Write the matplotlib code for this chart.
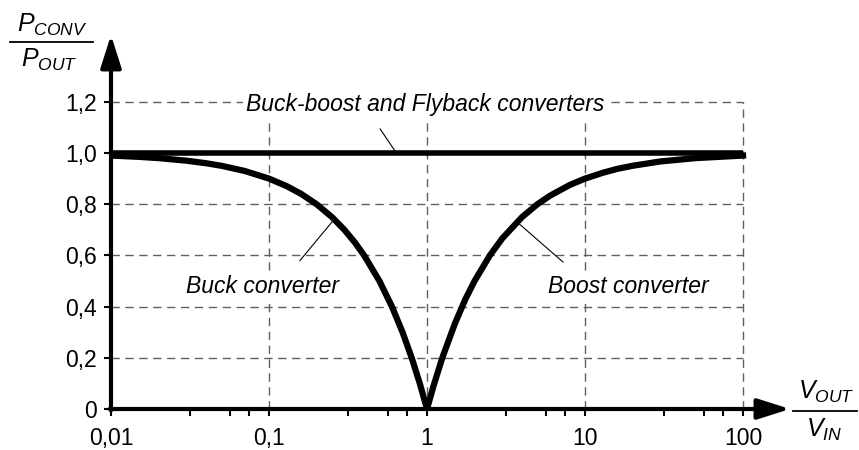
import numpy as np
import matplotlib.pyplot as plt
from matplotlib.ticker import FixedLocator, FixedFormatter, NullFormatter

plt.rcParams['font.family'] = ['Liberation Sans', 'DejaVu Sans']
plt.rcParams['mathtext.fontset'] = 'custom'
plt.rcParams['mathtext.it'] = 'Liberation Sans:italic'
plt.rcParams['mathtext.rm'] = 'Liberation Sans'

# valores
buck_x = [0.01, 0.015, 0.02, 0.03, 0.04, 0.05, 0.07, 0.1, 0.13, 0.16, 0.2, 0.25, 0.3,
          0.35, 0.4, 0.5, 0.6, 0.7, 0.8, 0.9, 1.0]
buck_y = [0.99, 0.985, 0.98, 0.97, 0.96, 0.95, 0.93, 0.9, 0.87, 0.84, 0.8, 0.75, 0.7,
          0.65, 0.6, 0.5, 0.4, 0.3, 0.2, 0.1, 0.0]
boost_x = [1.0, 1.1, 1.25, 1.5, 1.75, 2, 2.5, 3, 4, 5, 6, 8, 10, 13, 16, 20, 30, 50, 100]
boost_y = [0.0, 0.09, 0.2, 0.333, 0.429, 0.5, 0.6, 0.667, 0.75, 0.8, 0.833, 0.875, 0.9,
           0.923, 0.938, 0.95, 0.967, 0.98, 0.99]
bb_x = [0.01, 100]
bb_y = [1.0, 1.0]

xticks = [0.01, 0.1, 1, 10, 100]
xtick_labels = ['0,01', '0,1', '1', '10', '100']
yticks = [0, 0.2, 0.4, 0.6, 0.8, 1.0, 1.2]
ytick_labels = ['0', '0,2', '0,4', '0,6', '0,8', '1,0', '1,2']

W, H = 859, 450
fig = plt.figure(figsize=(W / 100, H / 100), dpi=100)

# eixo: 0.01 -> px 111, 100 -> px 743; y 0 -> px 409, 1.0 -> px 153
x0, x_tip = 111, 790
y0, y_tip = 409, 35
dec = (743 - x0) / 4
unit = (y0 - 153) / 1.0
xmax = 10 ** ((x_tip - x0) / dec - 2)
ymax = (y0 - y_tip) / unit

ax = fig.add_axes([x0 / W, (H - y0) / H, (x_tip - x0) / W, (y0 - y_tip) / H])
ax.set_xscale('log')
ax.set_xlim(0.01, xmax)
ax.set_ylim(0, ymax)
for s in ax.spines.values():
    s.set_visible(False)

# grade tracejada
ax.hlines(yticks[1:], 0.01, 100, colors='#606060', linestyles=(0, (6, 4)), lw=1.0, zorder=1)
ax.vlines(xticks[1:], 0, 1.2, colors='#606060', linestyles=(0, (6, 4)), lw=1.0, zorder=1)

# curvas
ax.plot(bb_x, bb_y, color='black', lw=4, solid_capstyle='butt', zorder=3)
ax.plot(buck_x, buck_y, color='black', lw=4.5, solid_joinstyle='round', zorder=3)
ax.plot(boost_x, boost_y, color='black', lw=4.5, solid_joinstyle='round', zorder=3)

# eixos com setas
arrow = dict(arrowstyle='-|>,head_length=1.1,head_width=0.35', lw=3, color='black',
             mutation_scale=18, shrinkA=0, shrinkB=0)
ax.annotate('', xy=(xmax, 0), xytext=(0.0098, 0), arrowprops=arrow, annotation_clip=False, zorder=5)
ax.annotate('', xy=(0.01, ymax), xytext=(0.01, -0.006), arrowprops=arrow, annotation_clip=False, zorder=5)

ax.xaxis.set_major_locator(FixedLocator(xticks))
ax.xaxis.set_major_formatter(FixedFormatter(xtick_labels))
minors = [10 ** (k + f) for k in range(-2, 2) for f in (0.5, 0.75, 0.875)]
ax.xaxis.set_minor_locator(FixedLocator(minors))
ax.xaxis.set_minor_formatter(NullFormatter())
ax.yaxis.set_major_locator(FixedLocator(yticks))
ax.yaxis.set_major_formatter(FixedFormatter(ytick_labels))
ax.tick_params(axis='x', which='both', direction='out', length=5, width=1.5, pad=8, labelsize=16.5)
ax.tick_params(axis='y', direction='out', length=5, width=1.5, pad=5, labelsize=16.5)

# textos e linhas de chamada
box = dict(facecolor='white', edgecolor='none', pad=2)
ax.text(0.97, 1.19, 'Buck-boost and Flyback converters', style='italic', fontsize=16.5,
        ha='center', va='center', bbox=box, zorder=4)
ax.text(0.0916, 0.48, 'Buck converter', style='italic', fontsize=16.5,
        ha='center', va='center', bbox=box, zorder=4)
ax.text(18.7, 0.48, 'Boost converter', style='italic', fontsize=16.5,
        ha='center', va='center', bbox=box, zorder=4)
ax.plot([0.505, 0.64], [1.094, 1.0], color='black', lw=0.8, zorder=4)
ax.plot([0.157, 0.25], [0.58, 0.73], color='black', lw=0.8, zorder=4)
ax.plot([3.77, 7.26], [0.727, 0.574], color='black', lw=0.8, zorder=4)


def fp(x, y):
    return x / W, 1 - y / H


# rótulos dos eixos em forma de fração
fig.text(*fp(52, 25), r'$P_{CONV}$', fontsize=18, ha='center', va='center')
fig.text(*fp(49, 60), r'$P_{OUT}$', fontsize=18, ha='center', va='center')
fig.add_artist(plt.Line2D([10 / W, 93 / W], [1 - 42 / H, 1 - 42 / H], color='black', lw=1.3))
fig.text(*fp(826, 392), r'$V_{OUT}$', fontsize=18, ha='center', va='center')
fig.text(*fp(824, 430), r'$V_{IN}$', fontsize=18, ha='center', va='center')
fig.add_artist(plt.Line2D([793 / W, 857 / W], [1 - 411 / H, 1 - 411 / H], color='black', lw=1.3))

fig.savefig('out.png', dpi=100)
